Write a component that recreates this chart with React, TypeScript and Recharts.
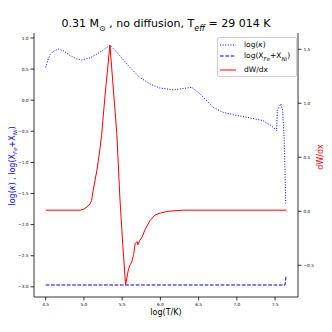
import { ComposedChart, Line, XAxis, YAxis } from 'recharts';

// log(kappa), left axis
const kappaX = [4.5, 4.534, 4.556, 4.6, 4.665, 4.73, 4.82, 4.905, 4.97, 5.08, 5.21, 5.34, 5.47, 5.6, 5.73, 5.865, 5.99, 6.17, 6.26, 6.41, 6.52, 6.69, 6.82, 6.96, 7.13, 7.34, 7.45, 7.52, 7.53, 7.575, 7.6, 7.62, 7.64];
const kappaY = [0.528, 0.663, 0.73, 0.785, 0.823, 0.796, 0.716, 0.663, 0.647, 0.68, 0.77, 0.885, 0.716, 0.528, 0.368, 0.26, 0.197, 0.165, 0.181, 0.207, 0.1, -0.114, -0.194, -0.236, -0.274, -0.327, -0.41, -0.488, -0.167, -0.06, -0.167, -0.65, -1.66];

// log(X_Fe + X_Ni), left axis
const ironX = [4.5, 7.63, 7.645];
const ironY = [-2.97, -2.97, -2.82];

// dW/dx, right axis
const workX = [4.5, 4.95, 5.0, 5.04, 5.08, 5.1, 5.12, 5.17, 5.21, 5.23, 5.28, 5.34, 5.43, 5.47, 5.51, 5.545, 5.58, 5.6, 5.625, 5.65, 5.67, 5.695, 5.705, 5.73, 5.76, 5.8, 5.865, 5.93, 6.0, 6.1, 6.3, 7.65];
const workY = [0.01, 0.01, 0.02, 0.04, 0.07, 0.1, 0.19, 0.38, 0.58, 0.7, 1.1, 1.54, 0.72, 0.13, -0.33, -0.683, -0.546, -0.5, -0.47, -0.4, -0.3, -0.28, -0.31, -0.27, -0.24, -0.17, -0.085, -0.035, -0.016, 0.0, 0.01, 0.01];

const xTicks = [4.5, 5.0, 5.5, 6.0, 6.5, 7.0, 7.5];
const leftTicks = [-3.0, -2.5, -2.0, -1.5, -1.0, -0.5, 0.0, 0.5, 1.0];
const rightTicks = [-0.5, 0.0, 0.5, 1.0, 1.5];

const toRows = (xs: number[], ys: number[]) => xs.map((x, i) => ({ x, y: ys[i] }));
const kappaData = toRows(kappaX, kappaY);
const ironData = toRows(ironX, ironY);
const workData = toRows(workX, workY);

const fmt = (v: number) => v.toFixed(1).replace('-', '\u2212');
const font = "'DejaVu Sans', sans-serif";
const tickStyle = { fontSize: 4.3, fill: '#000', fontFamily: font };
const spine = { stroke: '#000', strokeWidth: 0.8 };

const LegendBox = () => (
  <div style={{ position: 'absolute', left: 217, top: 37, width: 80, height: 40, background: 'rgba(255,255,255,0.8)', border: '1px solid #d0d0d0', borderRadius: 2, fontFamily: font, fontSize: 7.5, color: '#000', boxSizing: 'border-box' }}>
    <svg width={20} height={40} style={{ position: 'absolute', left: 0, top: 0 }}>
      <line x1={2} x2={18} y1={7} y2={7} stroke="blue" strokeWidth={1} strokeDasharray="1 1.6" />
      <line x1={2} x2={18} y1={18} y2={18} stroke="blue" strokeWidth={1} strokeDasharray="3.7 1.6" />
      <line x1={2} x2={18} y1={32} y2={32} stroke="red" strokeWidth={1} />
    </svg>
    <div style={{ position: 'absolute', left: 26, top: 2, whiteSpace: 'nowrap' }}>log(<i>κ</i>)</div>
    <div style={{ position: 'absolute', left: 26, top: 13, whiteSpace: 'nowrap' }}>log(X<sub style={{ fontSize: 5.5 }}><i>Fe</i></sub>+X<sub style={{ fontSize: 5.5 }}><i>Ni</i></sub>)</div>
    <div style={{ position: 'absolute', left: 26, top: 27, whiteSpace: 'nowrap' }}>dW/dx</div>
  </div>
);

export default function App() {
  return (
    <div style={{ position: 'absolute', left: 0, top: 0, width: 332, height: 332, background: '#fff', fontFamily: font }}>
      <ComposedChart width={332} height={332} margin={{ top: 33, right: 0, bottom: 0, left: 0 }}>
        <XAxis dataKey="x" type="number" domain={[4.347, 7.8]} allowDataOverflow ticks={xTicks} tickFormatter={fmt} tick={tickStyle} tickSize={3.5} tickLine={spine} axisLine={spine} height={35} />
        <XAxis xAxisId="top" orientation="top" dataKey="x" type="number" domain={[4.347, 7.8]} tick={false} tickLine={false} axisLine={spine} height={0} />
        <YAxis yAxisId="left" type="number" domain={[-3.163, 1.08]} allowDataOverflow ticks={leftTicks} tickFormatter={fmt} tick={tickStyle} tickSize={3.5} tickLine={spine} axisLine={spine} width={34} />
        <YAxis yAxisId="right" orientation="right" type="number" domain={[-0.794, 1.651]} allowDataOverflow ticks={rightTicks} tickFormatter={fmt} tick={tickStyle} tickSize={3.5} tickLine={spine} axisLine={spine} width={34} />
        <Line yAxisId="left" data={kappaData} dataKey="y" name="log(κ)" stroke="blue" strokeWidth={1} strokeDasharray="1 1.6" dot={false} isAnimationActive={false} type="linear" />
        <Line yAxisId="left" data={ironData} dataKey="y" name="log(X_Fe+X_Ni)" stroke="blue" strokeWidth={1} strokeDasharray="3.7 1.6" dot={false} isAnimationActive={false} type="linear" />
        <Line yAxisId="right" data={workData} dataKey="y" name="dW/dx" stroke="red" strokeWidth={1} dot={false} isAnimationActive={false} type="linear" />
      </ComposedChart>

      <LegendBox />
      <div style={{ position: 'absolute', left: 166, top: 25, transform: 'translate(-50%, -50%)', whiteSpace: 'nowrap', fontSize: 11 }}>
        0.31 M<sub style={{ fontSize: 8 }}>⊙</sub> , no diffusion, T<sub style={{ fontSize: 8 }}><i>eff</i></sub> = 29 014 K
      </div>
      <div style={{ position: 'absolute', left: 166, top: 312, transform: 'translate(-50%, -50%)', whiteSpace: 'nowrap', fontSize: 8 }}>
        log(T/K)
      </div>
      <div style={{ position: 'absolute', left: 13, top: 166, transform: 'translate(-50%, -50%) rotate(-90deg)', whiteSpace: 'nowrap', fontSize: 8, color: 'blue' }}>
        log(<i>κ</i>) , log(X<sub style={{ fontSize: 5.5 }}><i>Fe</i></sub>+X<sub style={{ fontSize: 5.5 }}><i>Ni</i></sub>)
      </div>
      <div style={{ position: 'absolute', left: 320, top: 157, transform: 'translate(-50%, -50%) rotate(-90deg)', whiteSpace: 'nowrap', fontSize: 8, color: 'red' }}>
        dW/dx
      </div>
    </div>
  );
}
